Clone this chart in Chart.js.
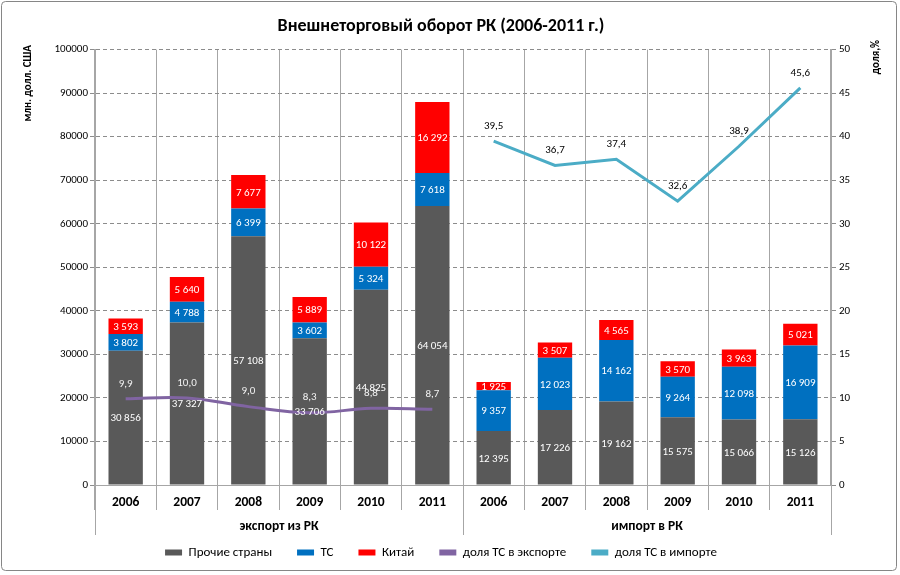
<!DOCTYPE html>
<html><head><meta charset="utf-8">
<script src="https://cdn.jsdelivr.net/npm/chart.js@4.4.1/dist/chart.umd.min.js"></script>
<style>html,body{margin:0;padding:0;background:#fff}#wrap{width:900px;height:575px;position:relative}</style>
</head><body><div id="wrap"><canvas id="c" width="900" height="575"></canvas></div>
<script>
// ---- data ----
const years = ['2006','2007','2008','2009','2010','2011','2006','2007','2008','2009','2010','2011'];
const groups = ['экспорт из РК', 'импорт в РК'];
const groupSize = 6;
const otherCountries = [30856,37327,57108,33706,44825,64054,12395,17226,19162,15575,15066,15126];
const customsUnion   = [3802,4788,6399,3602,5324,7618,9357,12023,14162,9264,12098,16909];
const china          = [3593,5640,7677,5889,10122,16292,1925,3507,4565,3570,3963,5021];
const shareExport = [9.9,10.0,9.0,8.3,8.8,8.7,null,null,null,null,null,null];
const shareImport = [null,null,null,null,null,null,39.5,36.7,37.4,32.6,38.9,45.6];
const leftAxis = {min:0, max:100000, step:10000};
const rightAxis = {min:0, max:50, step:5};
const seriesNames = ['Прочие страны','ТС','Китай','доля ТС в экспорте','доля ТС в импорте'];
const titleText = 'Внешнеторговый оборот РК (2006-2011 г.)';
const leftTitle = 'млн. долл. США';
const rightTitle = 'доля,%';

const F = 'Carlito, Lato, "Open Sans", sans-serif';
const COLORS = ['#595959','#0070C0','#FF0000','#8064A2','#4BACC6'];

const fmtInt = v => String(v).replace(/\B(?=(\d{3})+(?!\d))/g, ' ');
const fmtPct = v => v.toFixed(1).replace('.', ',');

const frame = {
  id:'frame',
  beforeDraw(chart){
    const c = chart.ctx;
    c.save();
    c.fillStyle = '#fff';
    c.fillRect(0,0,chart.width,chart.height);
    c.strokeStyle = '#868686';
    c.lineWidth = 1;
    c.beginPath();
    c.roundRect(1.5,1.5,895,569,4);
    c.stroke();
    c.restore();
  }
};

const valueLabels = {
  id:'valueLabels',
  afterDatasetsDraw(chart){
    const c = chart.ctx;
    c.save();
    c.textAlign = 'center';
    c.textBaseline = 'middle';
    c.font = '11px ' + F;
    for (let d = 0; d < 3; d++) {
      const meta = chart.getDatasetMeta(d);
      const vals = chart.data.datasets[d].data;
      meta.data.forEach((el, j) => {
        const p = el.getProps(['x','y','base'], true);
        c.fillStyle = '#fff';
        c.fillText(fmtInt(vals[j]), p.x, (p.y + p.base) / 2 + 1);
      });
    }
    [[3,'#f2f2f2'],[4,'#000']].forEach(([d,col]) => {
      const meta = chart.getDatasetMeta(d);
      const vals = chart.data.datasets[d].data;
      meta.data.forEach((el, j) => {
        if (vals[j] == null) return;
        c.fillStyle = col;
        c.fillText(fmtPct(vals[j]), el.x, el.y - 15);
      });
    });
    c.restore();
  }
};

const axisExtras = {
  id:'axisExtras',
  afterDraw(chart){
    const c = chart.ctx;
    const xs = chart.scales.x;
    const half = (xs.getPixelForValue(1) - xs.getPixelForValue(0)) / 2;
    const bottom = chart.chartArea.bottom;
    c.save();
    c.strokeStyle = '#a6a6a6';
    c.lineWidth = 1;
    c.font = 'bold 13.5px ' + F;
    c.fillStyle = '#000';
    c.textAlign = 'center';
    c.textBaseline = 'middle';
    groups.forEach((g, k) => {
      const x0 = xs.getPixelForValue(k * groupSize) - half;
      const x1 = xs.getPixelForValue(k * groupSize + groupSize - 1) + half;
      [x0, x1].forEach(xx => {
        c.beginPath();
        c.moveTo(Math.round(xx) + 0.5, bottom);
        c.lineTo(Math.round(xx) + 0.5, bottom + 50);
        c.stroke();
      });
      c.fillText(g, (x0 + x1) / 2, bottom + 42);
    });
    // axis titles
    c.font = 'bold 11px ' + F;
    c.textAlign = 'right';
    c.save();
    c.translate(28, 45);
    c.rotate(-Math.PI / 2);
    c.fillText(leftTitle, 0, 0);
    c.restore();
    c.save();
    c.translate(876, 40);
    c.rotate(-Math.PI / 2);
    c.fillText(rightTitle, 0, 0);
    c.restore();
    c.restore();
  }
};

const barCommon = {type:'bar', stack:'s', yAxisID:'y', order:2, barPercentage:0.56, categoryPercentage:1, borderWidth:0};

new Chart(document.getElementById('c'), {
  data: {
    labels: years,
    datasets: [
      {...barCommon, label:seriesNames[0], data:otherCountries, backgroundColor:COLORS[0]},
      {...barCommon, label:seriesNames[1], data:customsUnion, backgroundColor:COLORS[1]},
      {...barCommon, label:seriesNames[2], data:china, backgroundColor:COLORS[2]},
      {type:'line', label:seriesNames[3], data:shareExport, yAxisID:'y1', order:1, borderColor:COLORS[3], backgroundColor:COLORS[3], borderWidth:3, pointRadius:0, tension:0.4, spanGaps:false},
      {type:'line', label:seriesNames[4], data:shareImport, yAxisID:'y1', order:1, borderColor:COLORS[4], backgroundColor:COLORS[4], borderWidth:3, pointRadius:0, tension:0, spanGaps:false}
    ]
  },
  options: {
    responsive:false,
    animation:false,
    devicePixelRatio:1,
    layout:{padding:{left:0, right:18, top:6, bottom:6}},
    plugins:{
      title:{display:true, text:titleText, color:'#000', font:{family:F, size:18, weight:'bold'}, padding:{top:10, bottom:12}},
      legend:{position:'bottom', labels:{
        boxWidth:17, boxHeight:6, padding:25, color:'#000', font:{family:F, size:13},
        sort:(a,b)=>a.datasetIndex-b.datasetIndex,
        generateLabels(chart){
          return Chart.defaults.plugins.legend.labels.generateLabels(chart).map(l => ({...l, lineWidth:0}));
        }
      }},
      tooltip:{enabled:false}
    },
    scales:{
      x:{
        stacked:true, offset:true,
        grid:{offset:true, color:'#a6a6a6', lineWidth:1, tickLength:25, tickColor:'#a6a6a6'},
        border:{display:true, color:'#a6a6a6', width:1},
        ticks:{color:'#000', font:{family:F, size:13.5, weight:'bold'}, padding:-15, maxRotation:0, autoSkip:false},
        afterFit(s){ s.height = 36; }
      },
      y:{
        stacked:true, position:'left', min:leftAxis.min, max:leftAxis.max,
        ticks:{stepSize:leftAxis.step, color:'#000', font:{family:F, size:11}, padding:2, callback:v => String(v)},
        grid:{color:'#8c8c8c', tickLength:5, tickColor:'#8c8c8c', tickBorderDash:[]},
        border:{display:true, color:'#a6a6a6', width:2, dash:[4,3]},
        afterFit(s){ s.width = 95; }
      },
      y1:{
        position:'right', min:rightAxis.min, max:rightAxis.max,
        ticks:{stepSize:rightAxis.step, color:'#000', font:{family:F, size:11}, padding:3},
        grid:{drawOnChartArea:false, tickLength:5, tickColor:'#8c8c8c'},
        border:{display:true, color:'#a6a6a6', width:2},
        afterFit(s){ s.width = 51; }
      }
    }
  },
  plugins:[frame, valueLabels, axisExtras]
});
</script></body></html>
